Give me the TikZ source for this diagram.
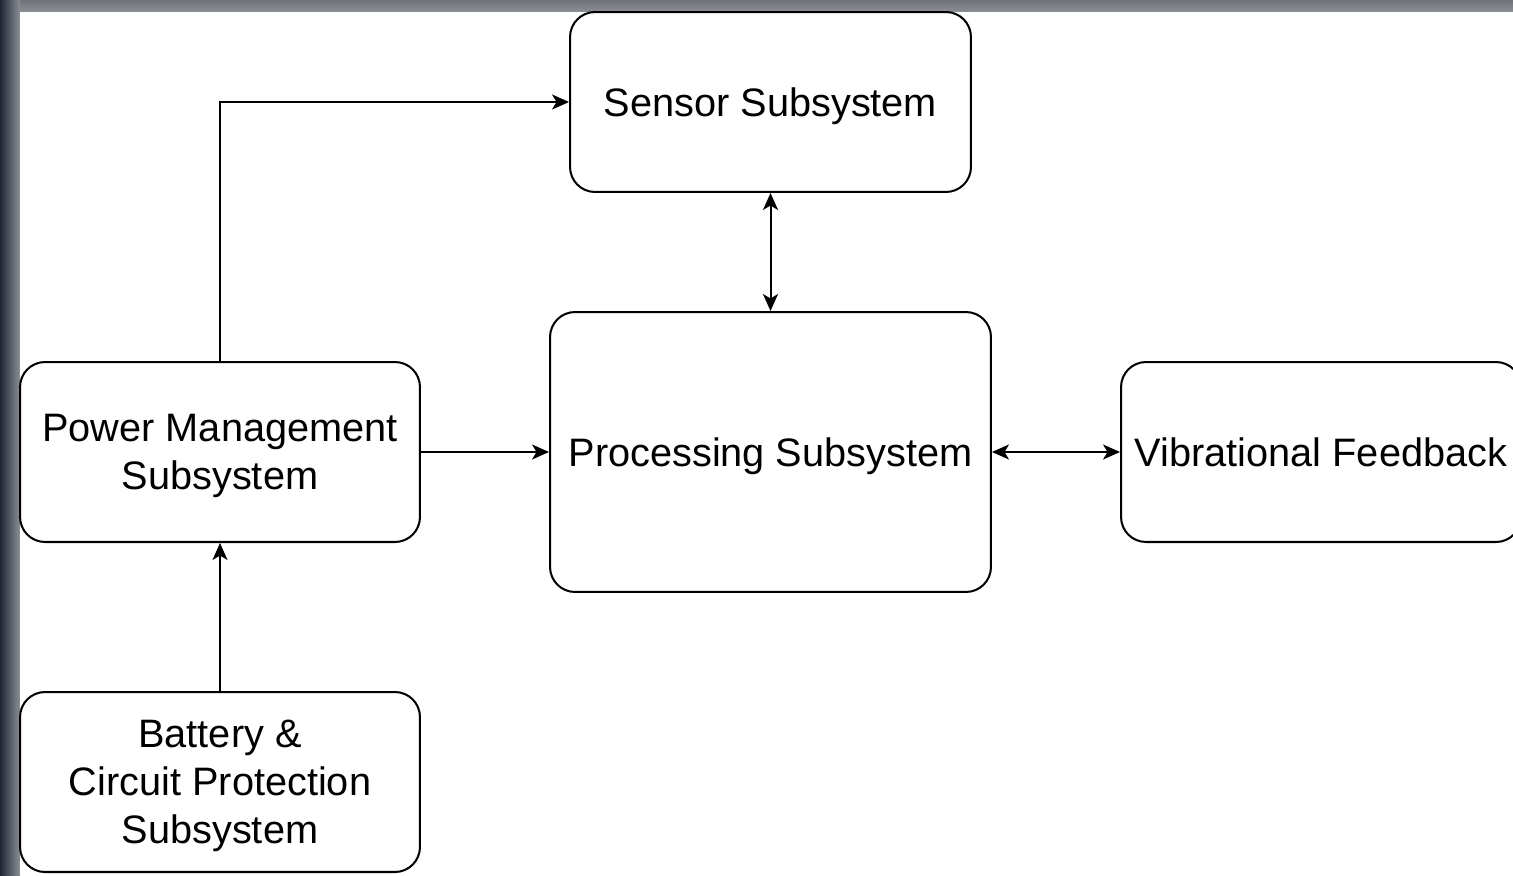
\documentclass[tikz,border=0pt]{standalone}
\usepackage{fontspec}
\setmainfont{Liberation Sans}
\usetikzlibrary{arrows.meta, positioning}
\definecolor{frameDark}{HTML}{1F2533}
\definecolor{frameGray}{HTML}{8C8F96}

\begin{document}
\begin{tikzpicture}[
x=0.02cm, y=-0.02cm,
block/.style={draw, line width=1.15pt, rounded corners=0.5cm, minimum width=8cm, minimum height=3.6cm, align=center, inner sep=0pt, text depth=0pt, font=\fontsize{22.6}{27.3}\selectfont},
arrow/.style={-{Stealth[length=3.4mm, width=3mm, inset=0.9mm]}, line width=1.15pt},
biarrow/.style={{Stealth[length=3.4mm, width=3mm, inset=0.9mm]}-{Stealth[length=3.4mm, width=3mm, inset=0.9mm]}, line width=1.15pt}
]
\useasboundingbox (0,0) rectangle (1513,875);
\clip (0,0) rectangle (1513,875);

% window frame
\fill[frameGray] (0,0) rectangle (1513,875);
\shade[top color=frameGray!80!black, bottom color=frameGray] (0,0) rectangle (1513,12);
\shade[left color=frameDark, right color=frameGray] (0,0) rectangle (20,875);
\fill[white] (20,12) rectangle (1513,875);

\node[block, minimum width=8.02cm] (sensor) at (770.5,102) {Sensor Subsystem};
\node[block, minimum width=8.82cm, minimum height=5.6cm] (processing) at (770.5,452) {Processing Subsystem};
\node[block] (power) at (220,452) {Power Management\\Subsystem};
\node[block] (vibration) at (1321,452) {Vibrational Feedback};
\node[block] (battery) at (220,782) {Battery \&\\Circuit Protection\\Subsystem};

\draw[arrow] (power.north) |- (sensor.west);
\draw[biarrow] (sensor.south) -- (processing.north);
\draw[arrow] (power.east) -- (processing.west);
\draw[biarrow] (processing.east) -- (vibration.west);
\draw[arrow] (battery.north) -- (power.south);
\end{tikzpicture}
\end{document}
